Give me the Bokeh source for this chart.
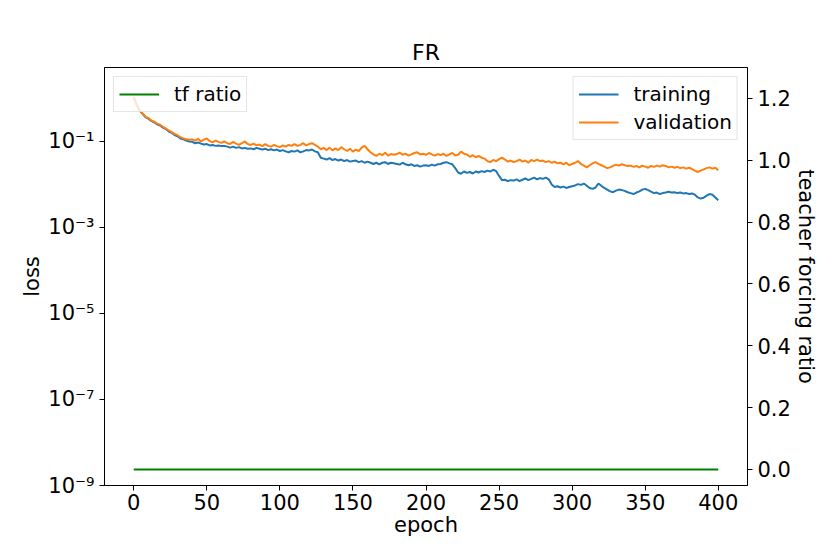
from bokeh.plotting import figure
from bokeh.models import (Range1d, LinearAxis, LinearScale, FixedTicker, Legend, LegendItem,
                          CustomJSTickFormatter, NumeralTickFormatter, ColumnDataSource)
from bokeh.embed import file_html
from bokeh.resources import INLINE

epochs = list(range(0, 401, 2))

training = [
    1.05, 0.71, 0.52, 0.44, 0.37, 0.34, 0.30, 0.28, 0.25, 0.235,
    0.21, 0.195, 0.17, 0.158, 0.141, 0.132, 0.117, 0.112, 0.105, 0.100,
    0.098, 0.091, 0.095, 0.089, 0.085, 0.087, 0.081, 0.083, 0.079, 0.081,
    0.078, 0.079, 0.076, 0.072, 0.076, 0.071, 0.074, 0.069, 0.071, 0.068,
    0.069, 0.066, 0.071, 0.068, 0.065, 0.068, 0.063, 0.066, 0.062, 0.065,
    0.060, 0.063, 0.059, 0.056, 0.060, 0.058, 0.062, 0.056, 0.059, 0.063,
    0.062, 0.065, 0.059, 0.056, 0.042, 0.040, 0.038, 0.041, 0.037, 0.039,
    0.036, 0.038, 0.035, 0.037, 0.034, 0.035, 0.036, 0.033, 0.035, 0.032,
    0.034, 0.032, 0.030, 0.032, 0.0295, 0.032, 0.033, 0.030, 0.032, 0.031,
    0.030, 0.029, 0.032, 0.0295, 0.028, 0.0295, 0.027, 0.028, 0.026, 0.0275,
    0.028, 0.027, 0.029, 0.0275, 0.0295, 0.030, 0.032, 0.033, 0.031, 0.0295,
    0.024, 0.019, 0.0178, 0.020, 0.0186, 0.0195, 0.018, 0.020, 0.019, 0.0204,
    0.0195, 0.021, 0.020, 0.022, 0.0204, 0.0158, 0.0126, 0.0129, 0.012, 0.0126,
    0.0123, 0.0132, 0.012, 0.0129, 0.0138, 0.0126, 0.0135, 0.0145, 0.0132, 0.0141,
    0.0135, 0.0145, 0.0132, 0.010, 0.0087, 0.0091, 0.0085, 0.0089, 0.0083, 0.0087,
    0.0091, 0.0095, 0.0102, 0.0098, 0.0105, 0.0093, 0.0083, 0.0079, 0.0085, 0.0105,
    0.0093, 0.0083, 0.0076, 0.0069, 0.0066, 0.0072, 0.0076, 0.0074, 0.0071, 0.0066,
    0.0063, 0.0060, 0.0065, 0.0069, 0.0076, 0.0079, 0.0074, 0.0068, 0.0063, 0.0065,
    0.0060, 0.0063, 0.0065, 0.0068, 0.0065, 0.0066, 0.0063, 0.0065, 0.0062, 0.0063,
    0.0060, 0.0062, 0.0058, 0.0050, 0.0047, 0.0049, 0.0055, 0.0060, 0.0058, 0.0050,
    0.0043,
]

validation = [
    1.08, 0.73, 0.54, 0.45, 0.38, 0.35, 0.31, 0.29, 0.26, 0.245,
    0.22, 0.20, 0.18, 0.165, 0.15, 0.14, 0.125, 0.118, 0.112, 0.11,
    0.112, 0.105, 0.115, 0.100, 0.110, 0.117, 0.102, 0.095, 0.105, 0.098,
    0.093, 0.100, 0.091, 0.087, 0.098, 0.089, 0.083, 0.091, 0.100, 0.087,
    0.083, 0.089, 0.081, 0.085, 0.078, 0.087, 0.079, 0.076, 0.083, 0.078,
    0.074, 0.081, 0.076, 0.083, 0.079, 0.087, 0.079, 0.083, 0.091, 0.081,
    0.087, 0.091, 0.083, 0.076, 0.066, 0.071, 0.063, 0.072, 0.062, 0.069,
    0.063, 0.074, 0.066, 0.060, 0.068, 0.058, 0.065, 0.060, 0.072, 0.079,
    0.066, 0.056, 0.050, 0.046, 0.052, 0.048, 0.055, 0.047, 0.051, 0.049,
    0.051, 0.055, 0.049, 0.052, 0.047, 0.050, 0.054, 0.056, 0.050, 0.052,
    0.049, 0.054, 0.050, 0.047, 0.051, 0.048, 0.052, 0.046, 0.050, 0.054,
    0.047, 0.049, 0.058, 0.052, 0.050, 0.044, 0.048, 0.043, 0.046, 0.042,
    0.040, 0.035, 0.033, 0.037, 0.035, 0.039, 0.042, 0.038, 0.034, 0.036,
    0.033, 0.035, 0.038, 0.034, 0.036, 0.032, 0.037, 0.035, 0.038, 0.035,
    0.036, 0.033, 0.035, 0.032, 0.034, 0.031, 0.032, 0.0295, 0.032, 0.028,
    0.030, 0.032, 0.035, 0.030, 0.0275, 0.025, 0.028, 0.031, 0.033, 0.030,
    0.028, 0.026, 0.024, 0.025, 0.027, 0.029, 0.0275, 0.0295, 0.028, 0.027,
    0.0275, 0.0257, 0.027, 0.025, 0.0275, 0.026, 0.0245, 0.027, 0.0257, 0.0275,
    0.026, 0.028, 0.027, 0.025, 0.026, 0.0245, 0.0257, 0.024, 0.025, 0.0234,
    0.0245, 0.0229, 0.021, 0.0195, 0.021, 0.0224, 0.024, 0.025, 0.0234, 0.0245,
    0.0214,
]

tf_epochs = [0, 400]
tf_ratio = [0.0, 0.0]

x_ticks = [0, 50, 100, 150, 200, 250, 300, 350, 400]
loss_ticks = [1e-9, 1e-7, 1e-5, 1e-3, 1e-1]
tf_ticks = [0.0, 0.2, 0.4, 0.6, 0.8, 1.0, 1.2]

FONT = "DejaVu Sans"
FS = "21px"

p = figure(width=822, height=546, x_range=Range1d(-20, 420),
           y_range=Range1d(1e-9, 5.25), y_axis_type="log",
           output_backend="svg", toolbar_location=None, title="FR",
           min_border_left=104, min_border_right=75,
           min_border_top=67, min_border_bottom=61)
p.extra_y_ranges = {"tf": Range1d(-0.052, 1.30)}
p.extra_y_scales = {"tf": LinearScale()}

p.title.text_font = FONT
p.title.text_font_size = "22px"
p.title.text_font_style = "normal"
p.title.align = "center"
p.title.text_color = "black"
p.title.standoff = 5

p.grid.visible = False
p.outline_line_color = "black"
p.outline_line_width = 1
p.outline_line_alpha = 1
p.background_fill_color = "white"
p.border_fill_color = "white"

src_t = ColumnDataSource(dict(x=epochs, y=training))
src_v = ColumnDataSource(dict(x=epochs, y=validation))
src_tf = ColumnDataSource(dict(x=tf_epochs, y=tf_ratio))

r_t = p.line("x", "y", source=src_t, line_color="#1f77b4", line_width=2)
r_v = p.line("x", "y", source=src_v, line_color="#ff7f0e", line_width=2)
r_tf = p.line("x", "y", source=src_tf, line_color="#008000", line_width=2,
              y_range_name="tf")

right_axis = LinearAxis(y_range_name="tf", axis_label="teacher forcing ratio")
p.add_layout(right_axis, "right")

p.xaxis.ticker = FixedTicker(ticks=x_ticks, minor_ticks=[])
p.xaxis.axis_label = "epoch"
p.yaxis[0].ticker = FixedTicker(ticks=loss_ticks, minor_ticks=[])
p.yaxis[0].axis_label = "loss"
p.yaxis[0].formatter = CustomJSTickFormatter(code="""
const e = Math.round(Math.log10(tick));
const m = {"-": "\u207b", "0": "\u2070", "1": "\u00b9", "2": "\u00b2", "3": "\u00b3",
           "4": "\u2074", "5": "\u2075", "6": "\u2076", "7": "\u2077", "8": "\u2078", "9": "\u2079"};
return "10" + String(e).split("").map(c => m[c]).join("");
""")
right_axis.ticker = FixedTicker(ticks=tf_ticks, minor_ticks=[])
right_axis.formatter = NumeralTickFormatter(format="0.0")

for ax in [p.xaxis[0], p.yaxis[0], right_axis]:
    ax.axis_line_color = "black"
    ax.major_tick_line_color = "black"
    ax.major_tick_out = 5
    ax.major_tick_in = 0
    ax.minor_tick_line_color = None
    ax.major_label_text_font = FONT
    ax.major_label_text_font_size = FS
    ax.major_label_text_color = "black"
    ax.major_label_standoff = 5
    ax.axis_label_text_font = FONT
    ax.axis_label_text_font_size = FS
    ax.axis_label_text_font_style = "normal"
    ax.axis_label_text_color = "black"
p.xaxis[0].axis_label_standoff = 0
p.xaxis[0].major_label_standoff = 3
p.yaxis[0].axis_label_standoff = 1
right_axis.axis_label_standoff = 0


def style_legend(leg):
    leg.label_text_font = FONT
    leg.label_text_font_size = "20px"
    leg.label_text_color = "black"
    leg.border_line_color = "#cccccc"
    leg.border_line_width = 1
    leg.background_fill_alpha = 0.8
    leg.padding = 5
    leg.spacing = 4
    leg.margin = 9
    leg.glyph_width = 40
    leg.glyph_height = 20
    leg.label_standoff = 15


leg1 = Legend(items=[LegendItem(label="tf ratio", renderers=[r_tf])], location="top_left")
leg2 = Legend(items=[LegendItem(label="training", renderers=[r_t]),
                     LegendItem(label="validation", renderers=[r_v])], location="top_right")
style_legend(leg1)
style_legend(leg2)
p.add_layout(leg1)
p.add_layout(leg2)

open("out.html", "w").write(file_html(p, INLINE))
